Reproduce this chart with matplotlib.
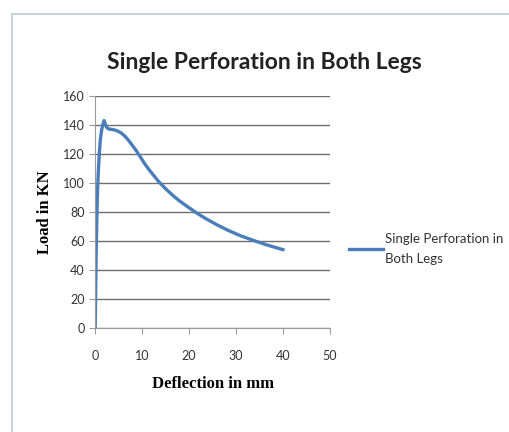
import matplotlib.pyplot as plt
import numpy as np

# deflection (mm) and load (kN)
deflection = [0, 0.1, 0.2, 0.35, 0.5, 0.7, 0.9, 1.1, 1.4, 1.7, 1.9, 2.1, 2.4, 2.8, 3.3, 4.0, 4.8, 5.6, 6.4, 7.2, 8.0, 8.8, 9.6, 10.5, 11.5, 12.5, 13.5, 15.0, 16.5, 18.0, 19.5, 21.5, 23.5, 26.0, 28.5, 31.0, 34.0, 37.0, 40.0]
load = [0, 25, 50, 75, 95, 110, 121, 130, 137, 141, 143, 141, 138.5, 137.3, 137, 136.6, 135.8, 134.3, 132, 129, 125.5, 122, 118, 113.5, 109, 105, 101, 96, 91.5, 87.5, 84, 79.5, 75.5, 71, 67, 63.5, 60, 56.8, 54]

xticks = [0, 10, 20, 30, 40, 50]
yticks = [0, 20, 40, 60, 80, 100, 120, 140, 160]

narrow = ['Lato', 'DejaVu Sans']
serif = ['Liberation Serif', 'DejaVu Serif']

fig = plt.figure(figsize=(5.09, 4.32), dpi=100)
ax = fig.add_axes([0.187, 0.241, 0.461, 0.537])

ax.plot(deflection, load, color='#4a7ebb', lw=2.4, label='Single Perforation in\nBoth Legs')

ax.set_xlim(0, 50)
ax.set_ylim(0, 160)
ax.set_xticks(xticks)
ax.set_yticks(yticks)
ax.yaxis.grid(True, color='#6e6e6e', lw=1)
ax.set_axisbelow(True)
for s in ['top', 'right']:
    ax.spines[s].set_visible(False)
ax.spines['left'].set_color('#9a9a9a')
ax.spines['bottom'].set_color('#9a9a9a')
ax.tick_params(axis='both', colors='#9a9a9a', length=4, labelcolor='#333333', labelsize=9)
ax.tick_params(axis='x', pad=12)
for lab in ax.get_xticklabels() + ax.get_yticklabels():
    lab.set_family(narrow)

fig.text(0.52, 0.855, 'Single Perforation in Both Legs', ha='center', va='center',
         fontsize=16.5, fontweight='bold', family=narrow, color='#222222')
ax.set_ylabel('Load in KN', fontsize=12, fontweight='bold', family=serif, labelpad=7)
ax.set_xlabel('Deflection in mm', fontsize=12, fontweight='bold', family=serif, labelpad=10)

leg = ax.legend(loc='center left', bbox_to_anchor=(1.03, 0.34), frameon=False,
                handlelength=2.6, handletextpad=0.15, prop={'family': narrow, 'size': 9.5})
for t in leg.get_texts():
    t.set_color('#333333')
    t.set_linespacing(1.8)

# faint outer frame of the chart area
fig.add_artist(plt.Line2D([0.024, 0.024], [0, 0.968], color='#c8d4d4', lw=1.5))
fig.add_artist(plt.Line2D([0.024, 1], [0.968, 0.968], color='#c8d4d4', lw=1.5))

fig.savefig('out.png', dpi=100)
